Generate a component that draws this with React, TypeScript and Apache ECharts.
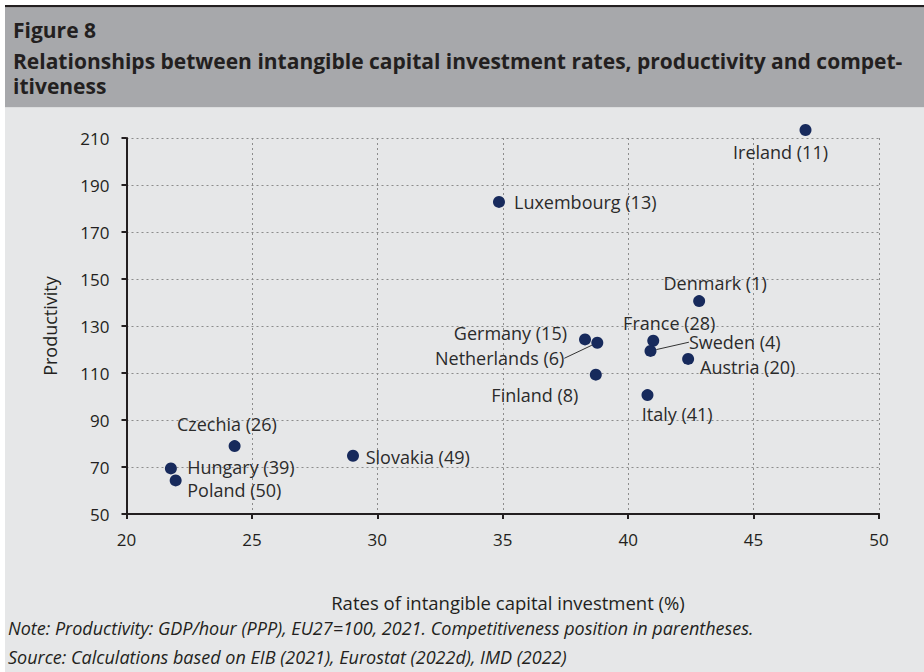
import React, { useEffect, useRef } from "react";
import * as echarts from "echarts";

// ---- data ----
const countries = [
  "Ireland", "Luxembourg", "Denmark", "Germany", "Netherlands", "France", "Sweden",
  "Austria", "Finland", "Italy", "Czechia", "Hungary", "Poland", "Slovakia",
];
const competitivenessRank = [11, 13, 1, 15, 6, 28, 4, 20, 8, 41, 26, 39, 50, 49];
const intangibleInvestment = [
  47.07, 34.85, 42.83, 38.28, 38.77, 41.0, 40.89, 42.39, 38.71, 40.77, 24.31, 21.77, 21.96, 29.03,
];
const productivity = [
  213.4, 182.8, 140.6, 124.3, 122.9, 123.7, 119.4, 116.0, 109.3, 100.6, 78.9, 69.4, 64.3, 74.8,
];
const xTicks = [20, 25, 30, 35, 40, 45, 50];
const yTicks = [50, 70, 90, 110, 130, 150, 170, 190, 210];

const titleLines = [
  "Figure 8",
  "Relationships between intangible capital investment rates, productivity and compet-",
  "itiveness",
];
const xAxisTitle = "Rates of intangible capital investment (%)";
const yAxisTitle = "Productivity";
const noteText =
  "Note: Productivity: GDP/hour (PPP), EU27=100, 2021. Competitiveness position in parentheses.";
const sourceText = "Source: Calculations based on EIB (2021), Eurostat (2022d), IMD (2022)";

// ---- label placement (layout, relative to each point) ----
type Anchor = { align: "left" | "right" | "center"; dx: number; dy: number; line?: boolean };
const labelAnchors: Record<string, Anchor> = {
  Ireland: { align: "center", dx: -25, dy: 22 },
  Luxembourg: { align: "left", dx: 15, dy: 0 },
  Denmark: { align: "center", dx: 16, dy: -18 },
  Germany: { align: "right", dx: -18, dy: -6.6 },
  Netherlands: { align: "right", dx: -33, dy: 15.6, line: true },
  France: { align: "center", dx: 16, dy: -17.4 },
  Sweden: { align: "left", dx: 38.4, dy: -8.7, line: true },
  Austria: { align: "left", dx: 12, dy: 7.7 },
  Finland: { align: "right", dx: -17.4, dy: 20.3 },
  Italy: { align: "center", dx: 29.7, dy: 19 },
  Czechia: { align: "center", dx: -7.7, dy: -22 },
  Hungary: { align: "left", dx: 16.3, dy: -1 },
  Poland: { align: "left", dx: 11.6, dy: 10 },
  Slovakia: { align: "left", dx: 12.7, dy: 1 },
};

const FONT = "'Open Sans', 'Noto Sans', sans-serif";
const TEXT = "#231f20";

export default function App() {
  const ref = useRef<HTMLDivElement>(null);

  useEffect(() => {
    if (!ref.current) return;
    const chart = echarts.init(ref.current, undefined, { renderer: "svg" });

    const data = countries.map((name, i) => {
      const a = labelAnchors[name];
      return {
        name,
        value: [intangibleInvestment[i], productivity[i]],
        labelLine: a && a.line
          ? { show: true, lineStyle: { color: "#333333", width: 1 } }
          : { show: false },
      };
    });

    chart.setOption({
      animation: false,
      backgroundColor: "#ffffff",
      textStyle: { fontFamily: FONT },
      graphic: [
        { type: "rect", z: -10, shape: { x: 5, y: 5, width: 919, height: 2.5 }, style: { fill: "#231f20" } },
        { type: "rect", z: -10, shape: { x: 5, y: 7.5, width: 919, height: 100 }, style: { fill: "#a7a8ab" } },
        { type: "rect", z: -10, shape: { x: 5, y: 107.5, width: 919, height: 565 }, style: { fill: "#e6e7e8" } },
        ...titleLines.map((t, i) => ({
          type: "text",
          x: 13,
          y: [30, 60.5, 86][i],
          style: {
            text: t,
            font: `bold 21px ${FONT}`,
            fill: "#231f20",
            textAlign: "left",
            textVerticalAlign: "middle",
          },
        })),
        {
          type: "text",
          x: 508,
          y: 602,
          style: { text: xAxisTitle, font: `18.5px ${FONT}`, fill: TEXT, textAlign: "center", textVerticalAlign: "middle" },
        },
        {
          type: "text",
          x: 50,
          y: 326,
          rotation: Math.PI / 2,
          style: { text: yAxisTitle, font: `18px ${FONT}`, fill: TEXT, textAlign: "center", textVerticalAlign: "middle" },
        },
        {
          type: "text",
          x: 8,
          y: 628,
          style: { text: noteText, font: `italic 18px ${FONT}`, fill: TEXT, textAlign: "left", textVerticalAlign: "middle" },
        },
        {
          type: "text",
          x: 8,
          y: 657,
          style: { text: sourceText, font: `italic 18px ${FONT}`, fill: TEXT, textAlign: "left", textVerticalAlign: "middle" },
        },
      ],
      grid: { left: 126.5, right: 45, top: 138, bottom: 158, containLabel: false },
      xAxis: {
        type: "value",
        min: xTicks[0],
        max: xTicks[xTicks.length - 1],
        interval: 5,
        axisLine: { show: true, onZero: false, lineStyle: { color: "#231f20", width: 2 } },
        axisTick: { show: true, inside: false, length: 5, lineStyle: { color: "#231f20", width: 2 } },
        axisLabel: { color: TEXT, fontSize: 17, fontFamily: FONT, margin: 17 },
        splitLine: { show: true, lineStyle: { color: "#8c8c8c", type: [2, 3], width: 1 } },
      },
      yAxis: {
        type: "value",
        min: yTicks[0],
        max: yTicks[yTicks.length - 1],
        interval: 20,
        axisLine: { show: true, onZero: false, lineStyle: { color: "#231f20", width: 2 } },
        axisTick: { show: true, inside: false, length: 5, lineStyle: { color: "#231f20", width: 2 } },
        axisLabel: { color: TEXT, fontSize: 17, fontFamily: FONT, margin: 17 },
        splitLine: { show: true, lineStyle: { color: "#8c8c8c", type: [2, 3], width: 1 } },
      },
      series: [
        {
          type: "scatter",
          clip: false,
          symbol: "circle",
          symbolSize: 12,
          itemStyle: { color: "#172a5c", opacity: 1 },
          silent: true,
          emphasis: { disabled: true },
          data,
          label: {
            show: true,
            position: "inside",
            color: "#2b2b2b",
            fontSize: 18,
            lineHeight: 19,
            fontFamily: FONT,
            formatter: (p: any) => `${countries[p.dataIndex]} (${competitivenessRank[p.dataIndex]})`,
          },
          labelLayout: (p: any) => {
            const a = labelAnchors[countries[p.dataIndex]];
            const cx = p.rect.x + p.rect.width / 2;
            const cy = p.rect.y + p.rect.height / 2;
            return { x: cx + a.dx, y: cy + a.dy, align: a.align, verticalAlign: "middle" };
          },
        },
      ],
    });

    return () => chart.dispose();
  }, []);

  return (
    <div
      ref={ref}
      style={{ position: "fixed", left: 0, top: 0, width: 924, height: 672 }}
    />
  );
}
